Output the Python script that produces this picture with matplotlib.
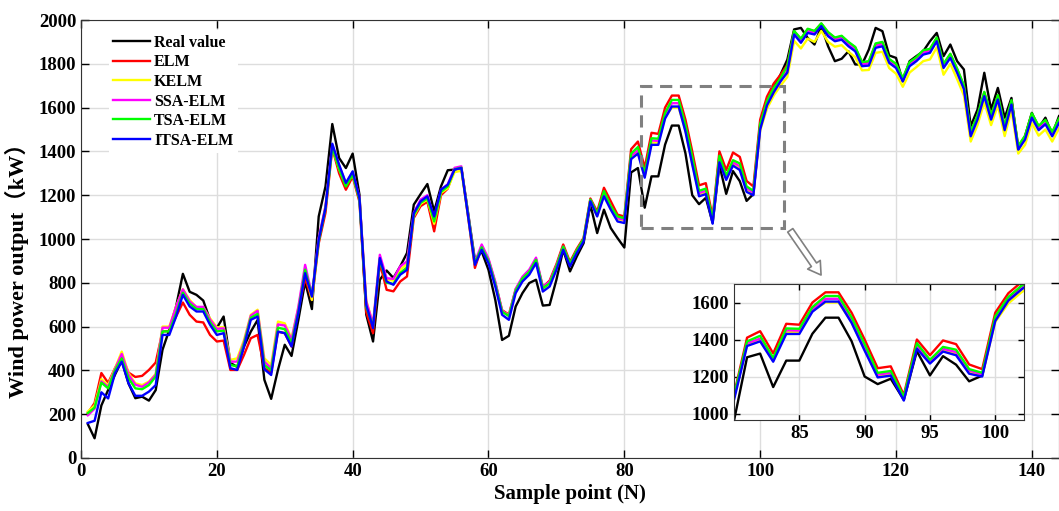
import numpy as np
import matplotlib
matplotlib.use("Agg")
import matplotlib.pyplot as plt
from matplotlib.patches import Rectangle

plt.rcParams['font.family'] = ['Liberation Serif', 'Noto Sans CJK SC']
plt.rcParams['font.weight'] = 'bold'

# sample index
samples = np.arange(1, 145)

real_value = [
    155, 90, 240, 311, 380, 445, 340, 273, 280, 262, 310, 494, 585, 692, 841, 759, 745, 719, 631, 594,
    646, 434, 416, 509, 577, 630, 357, 270, 402, 517, 466, 630, 805, 680, 1103, 1240, 1525, 1370, 1324, 1390,
    1202, 655, 532, 814, 856, 822, 875, 936, 1157, 1205, 1251, 1126, 1240, 1314, 1317, 1324, 1118, 905, 943, 859,
    722, 539, 558, 692, 753, 799, 814, 696, 699, 814, 951, 852, 920, 981, 1157, 1027, 1134, 1050, 1004, 961,
    1304, 1324, 1143, 1286, 1286, 1431, 1518, 1518, 1391, 1200, 1159, 1188, 1074, 1337, 1206, 1310, 1264, 1174, 1205, 1515,
    1620, 1690, 1751, 1819, 1957, 1964, 1918, 1888, 1972, 1880, 1812, 1823, 1857, 1797, 1797, 1865, 1964, 1949, 1838, 1827,
    1720, 1812, 1835, 1857, 1903, 1941, 1835, 1888, 1812, 1774, 1515, 1591, 1759, 1591, 1690, 1554, 1644, 1408, 1469, 1576,
    1507, 1554, 1477, 1561]

elm = [
    205, 251, 388, 343, 410, 463, 390, 370, 375, 402, 436, 578, 580, 646, 710, 654, 623, 619, 562, 532,
    536, 402, 402, 471, 547, 562, 410, 390, 577, 570, 509, 677, 821, 722, 980, 1120, 1415, 1300, 1225, 1285,
    1170, 666, 570, 890, 768, 761, 806, 829, 1096, 1150, 1170, 1035, 1200, 1230, 1318, 1326, 1100, 868, 965, 905,
    800, 675, 655, 770, 822, 850, 908, 780, 810, 885, 975, 895, 955, 1005, 1185, 1125, 1234, 1172, 1111, 1103,
    1410, 1445, 1325, 1485, 1480, 1600, 1655, 1655, 1545, 1400, 1245, 1255, 1100, 1400, 1315, 1395, 1375, 1265, 1240, 1545,
    1650, 1710, 1750, 1795, 1948, 1912, 1958, 1948, 1983, 1942, 1918, 1925, 1897, 1874, 1805, 1809, 1890, 1897, 1819, 1797,
    1732, 1805, 1827, 1859, 1865, 1917, 1797, 1843, 1775, 1699, 1487, 1562, 1669, 1562, 1654, 1514, 1631, 1422, 1469, 1571,
    1514, 1541, 1486, 1547]

kelm = [
    212, 240, 360, 333, 410, 486, 387, 341, 333, 349, 384, 600, 600, 692, 771, 722, 688, 688, 638, 597,
    597, 448, 455, 539, 654, 677, 455, 425, 623, 615, 547, 684, 860, 722, 1000, 1150, 1420, 1320, 1245, 1295,
    1185, 720, 610, 915, 815, 810, 860, 885, 1105, 1160, 1180, 1070, 1210, 1232, 1305, 1312, 1105, 885, 960, 900,
    795, 670, 652, 765, 818, 848, 900, 772, 795, 870, 960, 880, 945, 995, 1175, 1105, 1205, 1140, 1090, 1085,
    1370, 1395, 1285, 1440, 1440, 1555, 1600, 1600, 1495, 1345, 1205, 1212, 1080, 1360, 1278, 1342, 1325, 1225, 1205, 1495,
    1595, 1655, 1700, 1740, 1905, 1870, 1915, 1900, 1950, 1900, 1878, 1885, 1855, 1830, 1770, 1772, 1850, 1855, 1780, 1755,
    1695, 1760, 1785, 1812, 1820, 1875, 1750, 1800, 1730, 1655, 1445, 1520, 1625, 1520, 1610, 1470, 1588, 1390, 1430, 1530,
    1472, 1500, 1445, 1505]

ssa_elm = [
    195, 225, 350, 325, 405, 475, 380, 335, 325, 345, 380, 595, 595, 690, 770, 715, 690, 690, 632, 590,
    592, 440, 440, 530, 650, 672, 440, 410, 610, 605, 540, 690, 882, 745, 1005, 1150, 1430, 1335, 1255, 1305,
    1190, 715, 612, 928, 821, 818, 875, 898, 1120, 1180, 1200, 1095, 1225, 1250, 1325, 1332, 1115, 895, 975, 910,
    805, 672, 650, 772, 828, 860, 915, 782, 805, 878, 965, 885, 945, 998, 1178, 1112, 1210, 1145, 1095, 1088,
    1380, 1405, 1290, 1450, 1448, 1565, 1620, 1620, 1505, 1360, 1210, 1220, 1085, 1368, 1282, 1350, 1332, 1232, 1212, 1510,
    1615, 1675, 1720, 1770, 1940, 1905, 1950, 1942, 1978, 1935, 1912, 1918, 1890, 1866, 1798, 1802, 1883, 1890, 1812, 1790,
    1727, 1798, 1820, 1852, 1858, 1910, 1790, 1836, 1768, 1692, 1478, 1554, 1662, 1554, 1646, 1506, 1623, 1416, 1462, 1564,
    1506, 1534, 1478, 1540]

tsa_elm = [
    205, 230, 344, 318, 400, 455, 364, 318, 314, 333, 372, 578, 578, 660, 755, 705, 680, 680, 620, 578,
    582, 425, 418, 522, 640, 658, 425, 400, 595, 588, 525, 668, 860, 740, 990, 1140, 1420, 1320, 1240, 1295,
    1180, 690, 600, 905, 800, 795, 845, 870, 1110, 1165, 1185, 1080, 1215, 1240, 1318, 1326, 1110, 890, 962, 900,
    795, 668, 648, 765, 820, 850, 905, 775, 798, 875, 965, 888, 948, 1000, 1180, 1115, 1219, 1150, 1103, 1095,
    1390, 1420, 1300, 1460, 1458, 1575, 1635, 1635, 1520, 1375, 1220, 1230, 1090, 1380, 1290, 1360, 1345, 1240, 1220, 1525,
    1630, 1690, 1735, 1790, 1950, 1915, 1960, 1950, 1985, 1945, 1920, 1928, 1900, 1877, 1808, 1812, 1893, 1900, 1822, 1800,
    1735, 1808, 1830, 1862, 1868, 1920, 1800, 1846, 1778, 1702, 1490, 1565, 1672, 1565, 1657, 1517, 1634, 1425, 1472, 1574,
    1517, 1544, 1489, 1550]

itsa_elm = [
    160, 170, 300, 272, 387, 440, 341, 284, 284, 303, 333, 562, 562, 646, 745, 692, 669, 669, 608, 562,
    570, 410, 402, 509, 631, 646, 405, 379, 577, 570, 509, 661, 844, 737, 997, 1141, 1435, 1340, 1256, 1309,
    1187, 699, 593, 913, 806, 791, 837, 859, 1118, 1172, 1195, 1103, 1225, 1248, 1317, 1324, 1103, 882, 951, 890,
    783, 654, 631, 753, 806, 837, 890, 760, 783, 859, 951, 875, 936, 989, 1172, 1103, 1195, 1134, 1080, 1073,
    1365, 1390, 1280, 1430, 1430, 1550, 1605, 1605, 1490, 1340, 1195, 1205, 1070, 1350, 1270, 1335, 1315, 1215, 1200, 1500,
    1610, 1670, 1720, 1760, 1934, 1896, 1941, 1934, 1972, 1926, 1903, 1910, 1880, 1857, 1789, 1792, 1873, 1880, 1804, 1781,
    1720, 1789, 1812, 1842, 1850, 1903, 1781, 1827, 1759, 1684, 1469, 1545, 1652, 1545, 1637, 1497, 1614, 1408, 1454, 1554,
    1497, 1524, 1469, 1530]

series = [
    ("Real value", real_value, "black"),
    ("ELM", elm, "#ff0000"),
    ("KELM", kelm, "#ffff00"),
    ("SSA-ELM", ssa_elm, "#ff00ff"),
    ("TSA-ELM", tsa_elm, "#00ff00"),
    ("ITSA-ELM", itsa_elm, "#0000ff"),
]

W, H = 1059, 511
fig = plt.figure(figsize=(W / 100, H / 100), dpi=100)
ax = fig.add_axes([81 / W, 1 - 458 / H, (W - 81) / W, (458 - 20) / H])

for name, vals, col in series:
    ax.plot(samples, vals, color=col, lw=1.7, label=name)

ax.set_xlim(0, 144)
ax.set_ylim(0, 2000)
ax.set_xticks(np.arange(0, 141, 20))
ax.set_yticks(np.arange(0, 2001, 200))
ax.grid(True, color='#dddddd', lw=1.0)
ax.tick_params(direction='in', top=True, right=True, length=6, labelsize=13.5, width=1)
for sp in ax.spines.values():
    sp.set_color('#333333')
ax.set_xlabel("Sample point (N)", fontsize=15, fontweight='bold', labelpad=3)
ax.set_ylabel("Wind power output（kW）", fontsize=16, fontweight='bold')
ax.yaxis.set_label_coords(-0.053, 0.44)

leg = ax.legend(loc='upper left', bbox_to_anchor=(0.02, 0.995), fontsize=11.5,
                handlelength=2.3, labelspacing=0.22, handletextpad=0.25,
                frameon=True, fancybox=False, framealpha=1, borderpad=0.3)
leg.get_frame().set_edgecolor('none')

# zoom box and arrow
ax.add_patch(Rectangle((82.4, 1050), 21.1, 650, fill=False, ec='#808080',
                       ls=(0, (4, 2.5)), lw=2.2, zorder=5))
ax.annotate('', xy=(109.2, 825), xytext=(104.2, 1050),
            arrowprops=dict(arrowstyle='simple,head_width=1.1,head_length=0.9,tail_width=0.45',
                            fc='white', ec='#808080', lw=1.2), zorder=6)

# inset
axin = fig.add_axes([734 / W, 1 - 420 / H, 290 / W, 136 / H])
for name, vals, col in series:
    axin.plot(samples, vals, color=col, lw=1.7)
axin.set_xlim(80, 102.2)
axin.set_ylim(965, 1700)
axin.set_xticks([85, 90, 95, 100])
axin.set_yticks([1000, 1200, 1400, 1600])
axin.grid(True, color='#dddddd', lw=1.0)
axin.tick_params(direction='in', top=True, right=True, length=4, labelsize=13.5, width=1)
for sp in axin.spines.values():
    sp.set_color('#333333')

fig.savefig("out.png", dpi=100)
